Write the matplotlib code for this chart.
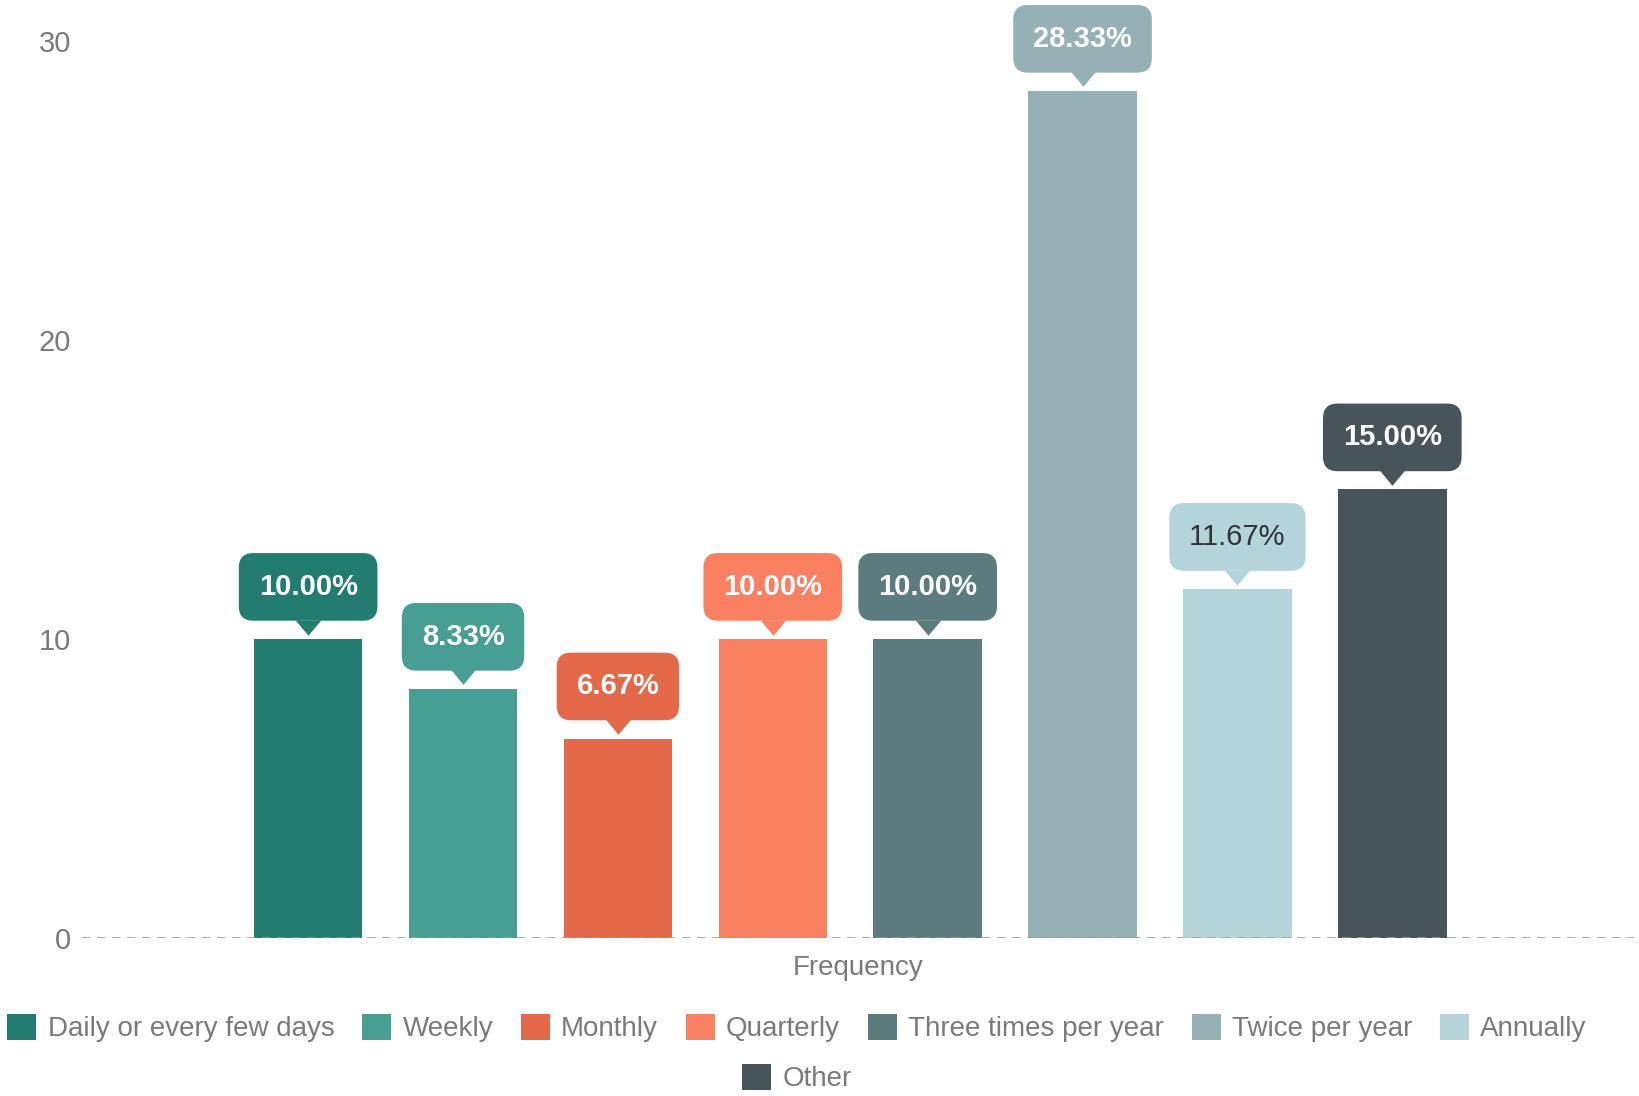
import matplotlib.pyplot as plt
from matplotlib.patches import Patch
from matplotlib.transforms import offset_copy

plt.rcParams["font.family"] = ["Liberation Sans", "DejaVu Sans"]

categories = ["Daily or every few days", "Weekly", "Monthly", "Quarterly",
              "Three times per year", "Twice per year", "Annually", "Other"]
values = [10.00, 8.33, 6.67, 10.00, 10.00, 28.33, 11.67, 15.00]
colors = ["#227c70", "#479f94", "#e3694a", "#f98061",
          "#5c7b7e", "#95b1b5", "#b3d5da", "#47555a"]
label_colors = ["white"] * 6 + ["#333333", "white"]
label_weights = ["bold"] * 6 + ["normal", "bold"]
y_ticks = [0, 10, 20, 30]

GRAY = "#7a7a7a"

fig = plt.figure(figsize=(16.4, 10.96), dpi=100)
ax = fig.add_axes([0.05, 0.1442, 0.9463, 0.8184])

x = list(range(len(categories)))
ax.bar(x, values, width=0.70, color=colors, zorder=2)
ax.axhline(0, color="#9a9a9a", lw=1.2, ls=(0, (5, 4)), zorder=3)

ax.set_xlim(-1.46, 8.56)
ax.set_ylim(0, 30)
ax.set_yticks(y_ticks)
ax.tick_params(axis="y", length=0, pad=8, labelsize=21, labelcolor=GRAY)
ax.set_xticks([])
for side in ax.spines.values():
    side.set_visible(False)
ax.set_xlabel("Frequency", fontsize=20, color=GRAY, labelpad=12)

# value callouts: rounded box with a small pointer down to the bar
pointer = [(-0.75, 0), (0.75, 0), (0, -0.9)]
for i, v in enumerate(values):
    ax.annotate(f"{v:.2f}%", xy=(i, v), xytext=(0, 37.5), textcoords="offset points",
                ha="center", va="center", fontsize=21, fontweight=label_weights[i],
                color=label_colors[i], annotation_clip=False, zorder=5,
                bbox=dict(boxstyle="round,pad=0.68,rounding_size=0.5",
                          fc=colors[i], ec="none"))
    tr = offset_copy(ax.transData, fig=fig, x=0, y=14, units="points")
    ax.plot([i], [v], marker=pointer, ms=22, color=colors[i], mec="none",
            transform=tr, clip_on=False, zorder=4)

handles = [Patch(fc=c, ec="none") for c in colors]
leg_kw = dict(loc="center", frameon=False, fontsize=20, handlelength=1.05,
              handleheight=1.05, handletextpad=0.4, columnspacing=1.0,
              labelcolor=GRAY, borderaxespad=0)
fig.legend(handles[:7], categories[:7], ncol=7,
           bbox_to_anchor=(797 / 1640, 1 - 1028 / 1096), **leg_kw)
fig.legend(handles[7:], categories[7:], ncol=1,
           bbox_to_anchor=(797 / 1640, 1 - 1078 / 1096), **leg_kw)

fig.savefig("out.png", dpi=100)
